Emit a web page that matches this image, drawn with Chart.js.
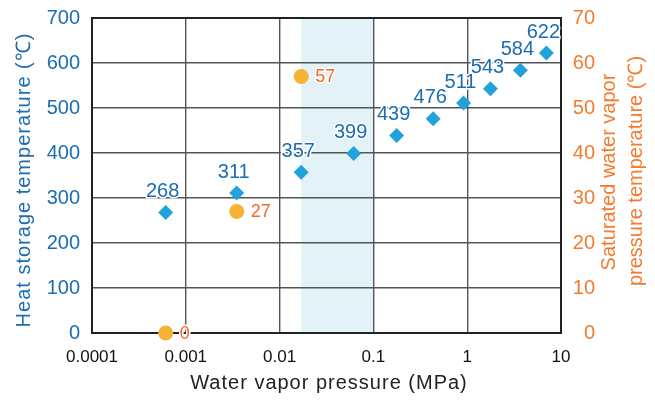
<!DOCTYPE html>
<html><head><meta charset="utf-8">
<script src="https://cdn.jsdelivr.net/npm/chart.js@4.4.1/dist/chart.umd.min.js"></script>
<style>html,body{margin:0;padding:0;background:#fff}#wrap{width:655px;height:403px;position:relative}</style>
</head><body><div id="wrap"><canvas id="c" width="655" height="403"></canvas></div>
<script>
// ---- data ----
const pressureMPa = [0.00061, 0.00349, 0.0170, 0.0616, 0.177, 0.434, 0.914, 1.77, 3.69, 6.98];
const heatStorageTemp = [268, 311, 357, 399, 439, 476, 511, 543, 584, 622];
const satPressureMPa = [0.00061, 0.00349, 0.0170];
const satTemp = [0, 27, 57];
const xTickValues = [0.0001, 0.001, 0.01, 0.1, 1, 10];
const xTickLabels = ['0.0001', '0.001', '0.01', '0.1', '1', '10'];
const leftTicks = [0, 100, 200, 300, 400, 500, 600, 700];
const rightTicks = [0, 10, 20, 30, 40, 50, 60, 70];
const shadedRange = [0.017, 0.1];
const xTitle = 'Water vapor pressure (MPa)';
const leftTitle = 'Heat storage temperature (℃)';
const rightTitle = ['Saturated water vapor', 'pressure temperature (℃)'];

// ---- style ----
const FONT = '"Liberation Sans", Arial, Helvetica, sans-serif';
const BLUE_TEXT = '#1b6db3';
const BLUE_MARK = '#22a2dc';
const ORANGE_TEXT = '#f26a24';
const ORANGE_AXIS = '#f47b2e';
const ORANGE_MARK = '#f6b336';
const GRID = '#555555';
const FRAME = '#222222';
const SHADE = '#e3f2f6';

Chart.defaults.font.family = FONT;

function zeroPad(s) { s.paddingLeft = 0; s.paddingRight = 0; s.paddingTop = 0; s.paddingBottom = 0; }

const shadePlugin = {
  id: 'shade',
  beforeDraw(chart) {
    const {ctx, chartArea: a, scales: {x}} = chart;
    const x0 = x.getPixelForValue(shadedRange[0]);
    const x1 = x.getPixelForValue(shadedRange[1]);
    ctx.save();
    ctx.fillStyle = SHADE;
    ctx.fillRect(x0, a.top, x1 - x0, a.bottom - a.top);
    ctx.restore();
  }
};

const framePlugin = {
  id: 'frame',
  beforeDatasetsDraw(chart) {
    const {ctx, chartArea: a} = chart;
    ctx.save();
    ctx.strokeStyle = FRAME;
    ctx.lineWidth = 2;
    ctx.strokeRect(a.left, a.top, a.right - a.left, a.bottom - a.top);
    ctx.restore();
  }
};

const labelPlugin = {
  id: 'pointLabels',
  afterDatasetsDraw(chart) {
    const {ctx} = chart;
    ctx.save();
    ctx.lineJoin = 'round';
    const m0 = chart.getDatasetMeta(0);
    ctx.font = '20px ' + FONT;
    ctx.textAlign = 'center';
    ctx.textBaseline = 'middle';
    m0.data.forEach((pt, i) => {
      const t = String(heatStorageTemp[i]);
      const x = pt.x - 3, y = pt.y - 21;
      ctx.strokeStyle = '#fff'; ctx.lineWidth = 3;
      ctx.strokeText(t, x, y);
      ctx.fillStyle = BLUE_TEXT;
      ctx.fillText(t, x, y);
    });
    const m1 = chart.getDatasetMeta(1);
    ctx.font = '18px ' + FONT;
    ctx.textAlign = 'left';
    m1.data.forEach((pt, i) => {
      const t = String(satTemp[i]);
      const x = pt.x + 14, y = pt.y + 1;
      ctx.strokeStyle = '#fff'; ctx.lineWidth = 3;
      ctx.strokeText(t, x, y);
      ctx.fillStyle = ORANGE_TEXT;
      ctx.fillText(t, x, y);
    });
    ctx.restore();
  }
};

const titlePlugin = {
  id: 'titles',
  afterDraw(chart) {
    const {ctx} = chart;
    ctx.save();
    ctx.textAlign = 'center';
    ctx.textBaseline = 'middle';
    ctx.font = '20px ' + FONT;
    ctx.letterSpacing = '1px';
    ctx.fillStyle = '#222';
    ctx.fillText(xTitle, 329, 383);

    ctx.fillStyle = BLUE_TEXT;
    ctx.save();
    ctx.translate(24, 180);
    ctx.rotate(-Math.PI / 2);
    ctx.fillText(leftTitle, 0, 0);
    ctx.restore();

    ctx.letterSpacing = '0px';
    ctx.fillStyle = ORANGE_AXIS;
    ctx.save();
    ctx.translate(609, 172);
    ctx.rotate(-Math.PI / 2);
    ctx.fillText(rightTitle[0], 0, 0);
    ctx.restore();
    ctx.save();
    ctx.translate(636, 171);
    ctx.rotate(-Math.PI / 2);
    ctx.fillText(rightTitle[1], 0, 0);
    ctx.restore();
    ctx.restore();
  }
};

new Chart(document.getElementById('c'), {
  type: 'scatter',
  data: {
    datasets: [
      {
        label: 'Heat storage temperature',
        data: pressureMPa.map((p, i) => ({x: p, y: heatStorageTemp[i]})),
        yAxisID: 'y',
        pointStyle: 'rectRot',
        pointRadius: 7.5,
        pointHoverRadius: 7.5,
        backgroundColor: BLUE_MARK,
        borderWidth: 0,
        clip: false
      },
      {
        label: 'Saturated water vapor pressure temperature',
        data: satPressureMPa.map((p, i) => ({x: p, y: satTemp[i]})),
        yAxisID: 'y1',
        pointStyle: 'circle',
        pointRadius: 7.5,
        pointHoverRadius: 7.5,
        backgroundColor: ORANGE_MARK,
        borderWidth: 0,
        clip: false
      }
    ]
  },
  options: {
    responsive: false,
    animation: false,
    devicePixelRatio: 1,
    layout: {padding: {top: 18, right: 60, left: 0, bottom: 0}},
    plugins: {legend: {display: false}, tooltip: {enabled: false}},
    scales: {
      x: {
        type: 'logarithmic',
        position: 'bottom',
        min: xTickValues[0],
        max: xTickValues[xTickValues.length - 1],
        afterBuildTicks: s => { s.ticks = xTickValues.map(v => ({value: v})); },
        afterFit: s => { s.height = 70; zeroPad(s); },
        ticks: {
          autoSkip: false, maxRotation: 0, minRotation: 0,
          color: '#111', font: {size: 17}, padding: 14,
          callback: (v, i) => xTickLabels[i]
        },
        grid: {color: GRID, lineWidth: 1.4, drawTicks: false},
        border: {color: FRAME, width: 2}
      },
      y: {
        position: 'left',
        min: leftTicks[0], max: leftTicks[leftTicks.length - 1],
        afterBuildTicks: s => { s.ticks = leftTicks.map(v => ({value: v})); },
        afterFit: s => { s.width = 92; zeroPad(s); },
        ticks: {color: BLUE_TEXT, font: {size: 20}, padding: 12},
        grid: {color: GRID, lineWidth: 1.4, drawTicks: false},
        border: {color: FRAME, width: 2}
      },
      y1: {
        position: 'right',
        min: rightTicks[0], max: rightTicks[rightTicks.length - 1],
        afterBuildTicks: s => { s.ticks = rightTicks.map(v => ({value: v})); },
        afterFit: s => { s.width = 34; zeroPad(s); },
        ticks: {color: ORANGE_AXIS, font: {size: 20}, padding: 10, crossAlign: 'far'},
        grid: {display: false, drawTicks: false},
        border: {color: FRAME, width: 2}
      }
    }
  },
  plugins: [shadePlugin, framePlugin, labelPlugin, titlePlugin]
});
</script>
</body></html>
